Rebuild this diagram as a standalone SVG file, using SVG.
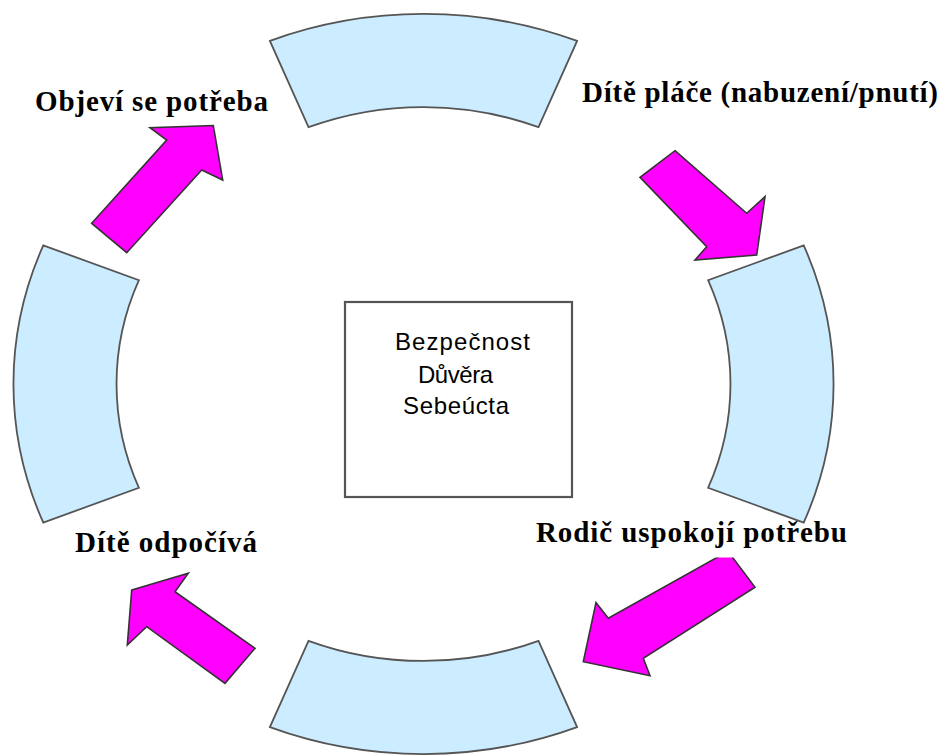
<svg xmlns="http://www.w3.org/2000/svg" width="944" height="756" viewBox="0 0 944 756">
<style>
.seg{fill:#CCECFF;stroke:#555;stroke-width:1.8;stroke-linejoin:miter}
.arr{fill:#FF00FF;stroke:#333;stroke-width:1.6;stroke-linejoin:miter}
.lbl{font-family:"Liberation Serif","Times New Roman",serif;font-weight:bold;font-size:29px;fill:#000}
.ctr{font-family:"Liberation Sans",Arial,sans-serif;font-size:24px;fill:#000}
</style>
<defs>
<clipPath id="clip3"><rect x="500" y="557.5" width="400" height="200"/></clipPath>
</defs>
<rect width="944" height="756" fill="#fff"/>
<g id="seg-top"><path class="seg" d="M269.9,40.9 A410,370 0 0 1 577.1,40.9 L538.5,127.2 A307,277 0 0 0 308.5,127.2 Z"/></g>
<g id="seg-right"><path class="seg" d="M803.7,245.4 A410,370 0 0 1 803.7,522.6 L708.1,487.8 A307,277 0 0 0 708.1,280.2 Z"/></g>
<g id="seg-bottom"><path class="seg" d="M577.1,727.1 A410,370 0 0 1 269.9,727.1 L308.5,640.8 A307,277 0 0 0 538.5,640.8 Z"/></g>
<g id="seg-left"><path class="seg" d="M43.3,522.6 A410,370 0 0 1 43.3,245.4 L138.9,280.2 A307,277 0 0 0 138.9,487.8 Z"/></g>
<g id="center">
<rect x="345" y="302" width="227" height="195" fill="#fff" stroke="#555" stroke-width="2.2"/>
<text class="ctr" x="462.5" y="350" text-anchor="middle" textLength="135">Bezpečnost</text>
<text class="ctr" x="455.5" y="382.5" text-anchor="middle" textLength="75">Důvěra</text>
<text class="ctr" x="456" y="414" text-anchor="middle" textLength="106">Sebeúcta</text>
</g>
<g id="connectors">
<polygon class="arr" points="91.7,223.3 166.7,140 150,127.7 213.3,125.5 222.7,180 201.7,170 126.7,252.7"/>
<polygon class="arr" points="675,150.7 746.7,213.3 765,196.7 756.7,255 695,260 706.7,246.7 640,177.3"/>
<polygon class="arr" clip-path="url(#clip3)" points="728,551.3 755,587.3 643.3,658.3 650,675.7 583.3,661.7 596,602.7 608.3,618.3"/>
<polygon class="arr" points="131.7,590 188.3,573.3 175,591.7 255,648.3 225,683.3 146.7,626.7 127.3,645"/>
</g>
<g id="label-1"><text class="lbl" x="35" y="111" textLength="233">Objeví se potřeba</text></g>
<g id="label-2"><text class="lbl" x="582" y="102" textLength="356">Dítě pláče (nabuzení/pnutí)</text></g>
<g id="label-3"><text class="lbl" x="536" y="542" textLength="311">Rodič uspokojí potřebu</text></g>
<g id="label-4"><text class="lbl" x="75" y="552" textLength="182">Dítě odpočívá</text></g>
</svg>
